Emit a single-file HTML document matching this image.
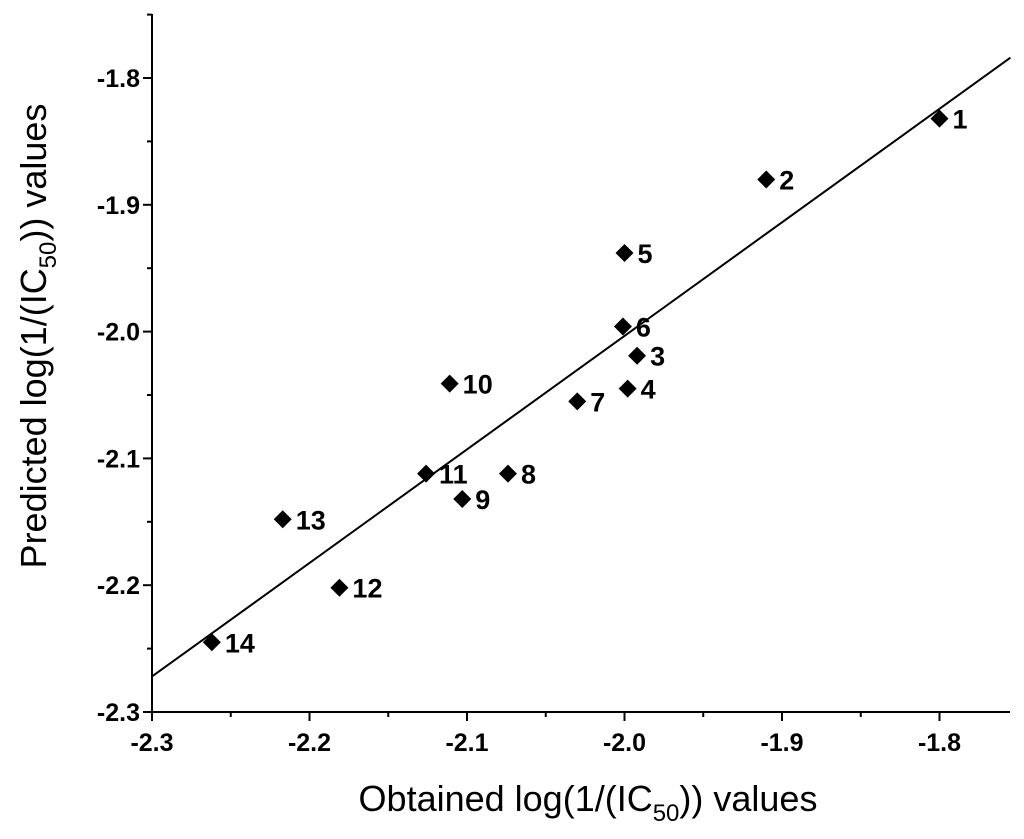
<!DOCTYPE html>
<html><head><meta charset="utf-8"><style>
html,body{margin:0;padding:0;background:#fff;}
svg{display:block;font-family:"Liberation Sans",Arial,sans-serif;}
</style></head><body>
<svg id="chart" width="1024" height="839" viewBox="0 0 1024 839" xmlns="http://www.w3.org/2000/svg">
<g id="axes"></g>
<g id="marks"></g>
<text x="588" y="811" font-size="36" text-anchor="middle">Obtained log(1/(IC<tspan font-size="24" dy="10">50</tspan><tspan dy="-10">)) values</tspan></text>
<text transform="translate(46,336) rotate(-90)" font-size="36" text-anchor="middle">Predicted log(1/(IC<tspan font-size="24" dy="10">50</tspan><tspan dy="-10">)) values</tspan></text>
</svg>
<script>
const labels=["1","2","3","4","5","6","7","8","9","10","11","12","13","14"];
const obtained=[-1.800,-1.910,-1.992,-1.998,-2.000,-2.001,-2.030,-2.074,-2.103,-2.111,-2.126,-2.181,-2.217,-2.262];
const predicted=[-1.832,-1.880,-2.019,-2.045,-1.938,-1.996,-2.055,-2.112,-2.132,-2.041,-2.112,-2.202,-2.148,-2.245];
const xTicks=[-2.3,-2.2,-2.1,-2.0,-1.9,-1.8];
const yTicks=[-2.3,-2.2,-2.1,-2.0,-1.9,-1.8];
const fitLine=[[-2.3,-2.272],[-1.755,-1.784]];
const X0=152,Y0=712,PX=1575,PY=1268,XR=1010,YT=14;
const sx=v=>X0+(v+2.3)*PX;
const sy=v=>Y0-(v+2.3)*PY;
const NS="http://www.w3.org/2000/svg";
function mk(tag,at,parent){const e=document.createElementNS(NS,tag);for(const k in at)e.setAttribute(k,at[k]);parent.appendChild(e);return e;}
const ax=document.getElementById('axes'),mg=document.getElementById('marks');
let e=mk('line',{x1:X0,y1:Y0,x2:XR,y2:Y0,stroke:'#000','stroke-width':2},ax);


e=mk('line',{x1:X0,y1:Y0,x2:X0,y2:YT,stroke:'#000','stroke-width':2},ax);


xTicks.forEach((t,i)=>{
  const x=sx(t);
  mk('line',{x1:x,y1:Y0,x2:x,y2:Y0+9,stroke:'#000','stroke-width':2},ax);
  const mx=sx(t+0.05); if(mx<=XR) mk('line',{x1:mx,y1:Y0,x2:mx,y2:Y0+5,stroke:'#000','stroke-width':2},ax);
  const tx=mk('text',{x:x,y:Y0+39,'font-size':25,'font-weight':'bold','text-anchor':'middle'},ax);
  tx.textContent=t.toFixed(1);
  
  
});
yTicks.forEach((t,i)=>{
  const y=sy(t);
  mk('line',{x1:X0,y1:y,x2:X0-9,y2:y,stroke:'#000','stroke-width':2},ax);
  const my=sy(t+0.05); if(my>=YT) mk('line',{x1:X0,y1:my,x2:X0-5,y2:my,stroke:'#000','stroke-width':2},ax);
  const tx=mk('text',{x:X0-12,y:y+9,'font-size':25,'font-weight':'bold','text-anchor':'end'},ax);
  tx.textContent=t.toFixed(1);
  
  
});
e=mk('line',{x1:sx(fitLine[0][0]),y1:sy(fitLine[0][1]),x2:sx(fitLine[1][0]),y2:sy(fitLine[1][1]),stroke:'#000','stroke-width':2},mg);


obtained.forEach((v,i)=>{
  const x=sx(v),y=sy(predicted[i]);
  const p=mk('polygon',{points:`${x},${y-9} ${x+9},${y} ${x},${y+9} ${x-9},${y}`,fill:'#000'},mg);
  
  
  const t=mk('text',{x:x+13,y:y+10,'font-size':27,'font-weight':'bold'},mg);
  t.textContent=labels[i];
  
  
});
</script>
</body></html>
